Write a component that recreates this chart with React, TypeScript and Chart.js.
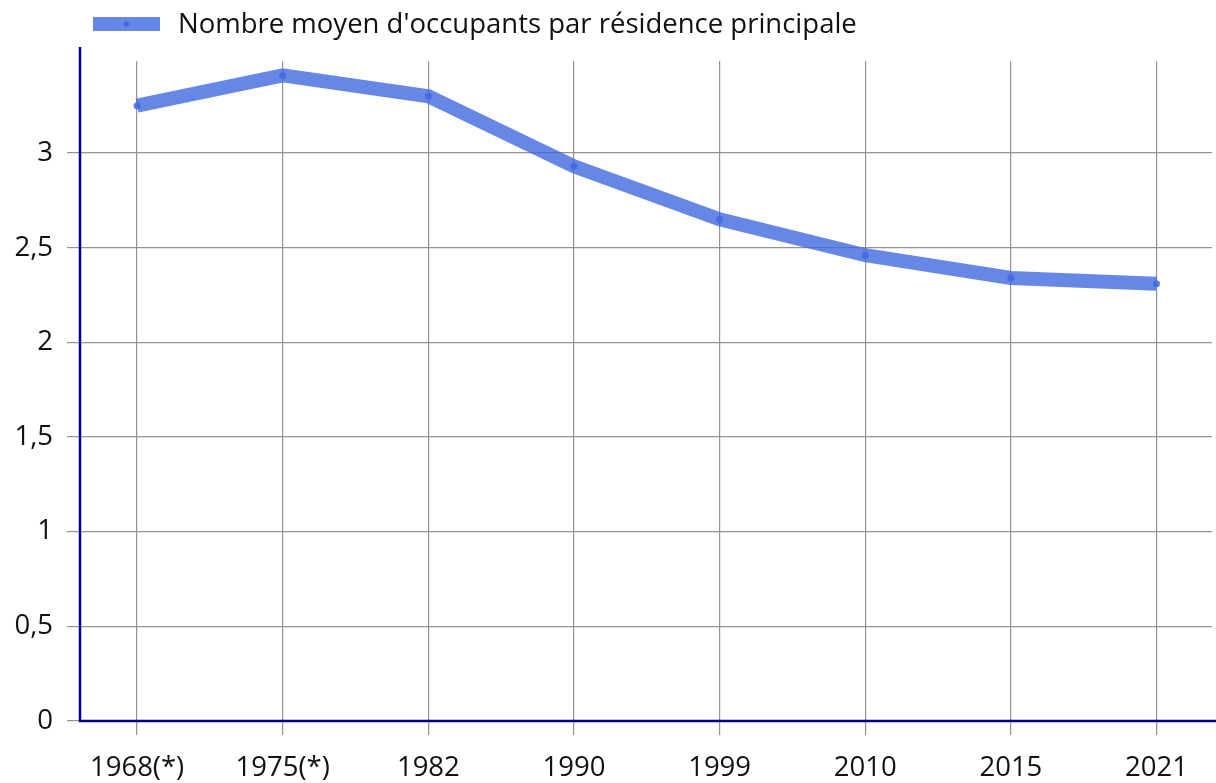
import React, { useEffect, useRef } from "react";
import { Chart, registerables } from "chart.js";

Chart.register(...registerables);

const categories = ["1968(*)", "1975(*)", "1982", "1990", "1999", "2010", "2015", "2021"];
const occupants = [3.25, 3.41, 3.3, 2.93, 2.65, 2.46, 2.34, 2.31];
const seriesLabel = "Nombre moyen d'occupants par résidence principale";
const yTickValues = [0, 0.5, 1, 1.5, 2, 2.5, 3];

const FONT = "'Open Sans', 'Noto Sans', sans-serif";
const FONT_SIZE = 27.5;
const LINE_COLOR = "rgba(65,105,225,0.8)";
const POINT_COLOR = "rgba(65,105,225,0.85)";
const AXIS_COLOR = "#00008b";
const GRID_COLOR = "#939393";

const decorPlugin = {
  id: "decor",
  afterDraw(chart: any) {
    const ctx = chart.ctx;
    const area = chart.chartArea;
    const yScale = chart.scales.y;
    const y0 = yScale.getPixelForValue(0);
    ctx.save();
    ctx.strokeStyle = AXIS_COLOR;
    ctx.lineWidth = 2.5;
    ctx.beginPath();
    ctx.moveTo(area.left, 47);
    ctx.lineTo(area.left, y0 + 1);
    ctx.moveTo(area.left - 1, y0);
    ctx.lineTo(chart.width, y0);
    ctx.stroke();
    const bx = 93, by = 17, bw = 67, bh = 14;
    ctx.fillStyle = LINE_COLOR;
    ctx.fillRect(bx, by, bw, bh);
    ctx.fillStyle = POINT_COLOR;
    ctx.beginPath();
    ctx.arc(bx + bw / 2, by + bh / 2, 3, 0, Math.PI * 2);
    ctx.fill();
    ctx.fillStyle = "#111111";
    ctx.font = FONT_SIZE + "px " + FONT;
    ctx.textBaseline = "middle";
    ctx.textAlign = "left";
    ctx.fillText(seriesLabel, 178, by + bh / 2 + 1);
    ctx.restore();
  },
};

export default function App() {
  const ref = useRef<HTMLCanvasElement | null>(null);
  useEffect(() => {
    document.body.style.margin = "0";
    const canvas = ref.current!;
    const chart = new Chart(canvas, {
      type: "line",
      data: {
        datasets: [
          {
            label: seriesLabel,
            data: occupants.map((v, i) => ({ x: i, y: v })),
            borderColor: LINE_COLOR,
            backgroundColor: POINT_COLOR,
            borderWidth: 14,
            pointRadius: 3.5,
            pointBorderWidth: 0,
            pointBackgroundColor: POINT_COLOR,
            tension: 0,
          },
        ],
      },
      options: {
        animation: false,
        responsive: false,
        devicePixelRatio: 1,
        layout: { padding: { top: 61, right: 0, left: 0, bottom: 0 } },
        plugins: {
          legend: { display: false },
          tooltip: { enabled: false },
        },
        scales: {
          x: {
            type: "linear",
            min: -0.392,
            max: 7.381,
            afterBuildTicks(scale: any) {
              scale.ticks = categories.map((_, i) => ({ value: i }));
            },
            afterFit(scale: any) {
              scale.height = 62;
              scale.paddingLeft = 0;
              scale.paddingRight = 0;
            },
            border: { display: false },
            grid: {
              color: GRID_COLOR,
              lineWidth: 1.2,
              drawTicks: true,
              tickLength: 14,
            },
            ticks: {
              autoSkip: false,
              maxRotation: 0,
              padding: 17,
              color: "#111111",
              font: { family: FONT, size: FONT_SIZE },
              callback: (v: any) => categories[Math.round(Number(v))] ?? "",
            },
          },
          y: {
            type: "linear",
            min: 0,
            max: 3.486,
            afterBuildTicks(scale: any) {
              scale.ticks = yTickValues.map((v) => ({ value: v }));
            },
            afterFit(scale: any) {
              scale.width = 80;
              scale.paddingTop = 0;
              scale.paddingBottom = 0;
            },
            border: { display: false },
            grid: {
              color: GRID_COLOR,
              lineWidth: 1.2,
              drawTicks: true,
              tickLength: 13,
            },
            ticks: {
              padding: 14,
              color: "#111111",
              font: { family: FONT, size: FONT_SIZE },
              callback: (v: any) => String(v).replace(".", ","),
            },
          },
        },
      },
      plugins: [decorPlugin],
    });
    return () => chart.destroy();
  }, []);
  return (
    <div style={{ position: "fixed", left: 0, top: 0, width: 1216, height: 783, background: "#fff" }}>
      <canvas ref={ref} width={1216} height={783} style={{ width: 1216, height: 783, display: "block" }} />
    </div>
  );
}
